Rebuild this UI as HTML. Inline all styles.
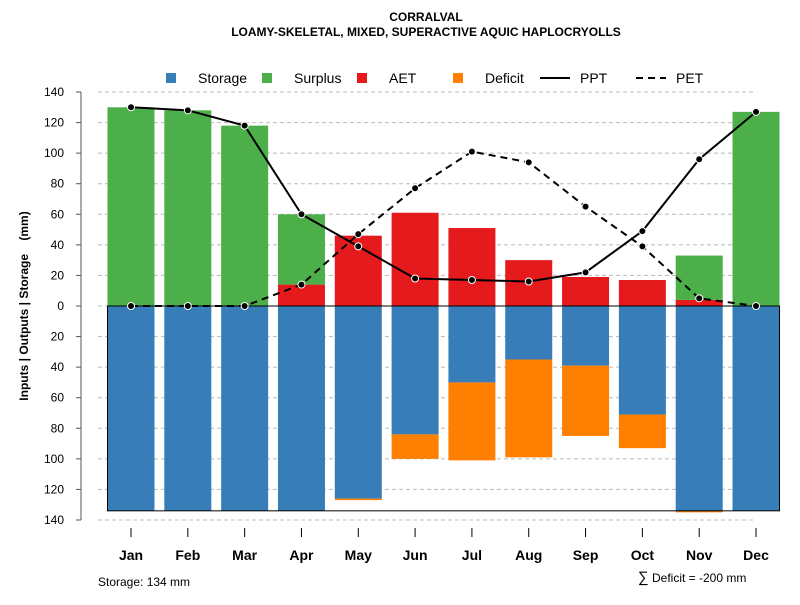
<!DOCTYPE html>
<html><head><meta charset="utf-8"><style>
body{margin:0;background:#fff;font-family:"Liberation Sans",sans-serif}
svg text{font-family:"Liberation Sans",sans-serif}
</style></head><body>
<svg id="c" width="800" height="600" xmlns="http://www.w3.org/2000/svg">
<text x="426" y="21" text-anchor="middle" font-size="12" font-weight="bold">CORRALVAL</text>
<text x="426" y="36" text-anchor="middle" font-size="12" font-weight="bold">LOAMY-SKELETAL, MIXED, SUPERACTIVE AQUIC HAPLOCRYOLLS</text>
<text transform="translate(28,306) rotate(-90)" text-anchor="middle" font-size="12" font-weight="bold">Inputs | Outputs | Storage &#160;&#160;&#160;(mm)</text>
<text x="98" y="586" font-size="12">Storage: 134 mm</text>
<text x="638" y="582" font-size="15">∑</text>
<text x="652" y="582" font-size="12">Deficit = -200 mm</text>
<g id="legend">
<g><rect x="166" y="73" width="10" height="10" fill="#377EB8"/><text x="198" y="83" font-size="14">Storage</text></g>
<g><rect x="262" y="73" width="10" height="10" fill="#4DAF4A"/><text x="294" y="83" font-size="14">Surplus</text></g>
<g><rect x="357" y="73" width="10" height="10" fill="#E41A1C"/><text x="389" y="83" font-size="14">AET</text></g>
<g><rect x="453" y="73" width="10" height="10" fill="#FF7F00"/><text x="485" y="83" font-size="14">Deficit</text></g>
<g><line x1="540" y1="78" x2="570" y2="78" stroke="#000" stroke-width="2"/><text x="580" y="83" font-size="14">PPT</text></g>
<g><line x1="636" y1="78" x2="666" y2="78" stroke="#000" stroke-width="2" stroke-dasharray="7,5"/><text x="676" y="83" font-size="14">PET</text></g>
</g>
<g id="grid"></g><g id="bars"></g><g id="lines"></g><g id="axes"></g>
</svg>
<script>
const months=["Jan","Feb","Mar","Apr","May","Jun","Jul","Aug","Sep","Oct","Nov","Dec"];
const storage=[134,134,134,134,126,84,50,35,39,71,134,134];
const deficit=[0,0,0,0,1,16,51,64,46,22,1,0];
const aet=[0,0,0,14,46,61,51,30,19,17,4,0];
const surplus=[130,128,118,46,0,0,0,0,0,0,29,127];
const ppt=[130,128,118,60,39,18,17,16,22,49,96,127];
const pet=[0,0,0,14,47,77,101,94,65,39,5,0];
const yTicks=[140,120,100,80,60,40,20,0,20,40,60,80,100,120,140];
const yTickVals=[140,120,100,80,60,40,20,0,-20,-40,-60,-80,-100,-120,-140];
const awc=134;
const NS="http://www.w3.org/2000/svg";
const y=v=>306-v*(214/140);
const x=i=>131+i*56.82;
const bw=47;
function mk(p,t,a){const e=document.createElementNS(NS,t);for(const k in a)e.setAttribute(k,a[k]);p.appendChild(e);return e;}
const G=document.getElementById('grid'),B=document.getElementById('bars'),L=document.getElementById('lines'),A=document.getElementById('axes');
yTickVals.forEach((v,i)=>{
 const g=mk(G,'line',{x1:98,x2:756,y1:y(v),y2:y(v),stroke:'#bbb','stroke-dasharray':'4,3'});
 
 
 const t=mk(A,'line',{x1:76,x2:81,y1:y(v),y2:y(v),stroke:'#555'});
 
 
 const l=mk(A,'text',{x:64,y:y(v)+4,'text-anchor':'end','font-size':12});
 l.textContent=yTicks[i];
 
 
});
mk(A,'line',{x1:81,x2:81,y1:y(140),y2:y(-140),stroke:'#555'});
months.forEach((m,i)=>{
 const cx=x(i),x0=cx-bw/2;
 let r=mk(B,'rect',{x:x0,y:y(0),width:bw,height:y(-storage[i])-y(0),fill:'#377EB8'});
 
 
 if(deficit[i]>0){r=mk(B,'rect',{x:x0,y:y(-storage[i]),width:bw,height:y(-storage[i]-deficit[i])-y(-storage[i]),fill:'#FF7F00'});
 
 }
 if(aet[i]>0){r=mk(B,'rect',{x:x0,y:y(aet[i]),width:bw,height:y(0)-y(aet[i]),fill:'#E41A1C'});
 
 }
 if(surplus[i]>0){r=mk(B,'rect',{x:x0,y:y(aet[i]+surplus[i]),width:bw,height:y(aet[i])-y(aet[i]+surplus[i]),fill:'#4DAF4A'});
 
 }
 const t=mk(A,'line',{x1:cx,x2:cx,y1:528,y2:537,stroke:'#000'});
 
 
 const l=mk(A,'text',{x:cx,y:560,'text-anchor':'middle','font-size':14,'font-weight':'bold'});
 l.textContent=m;
 
 
});
const box=mk(B,'rect',{x:x(0)-bw/2,y:y(0),width:x(11)+bw/2-(x(0)-bw/2),height:y(-awc)-y(0),fill:'none',stroke:'#000','stroke-width':1});


function series(arr,name,dash){
 const p=mk(L,'polyline',{points:arr.map((v,i)=>x(i)+','+y(v)).join(' '),fill:'none',stroke:'#000','stroke-width':2,'stroke-dasharray':dash});
 
 
 arr.forEach((v,i)=>{const c=mk(L,'circle',{cx:x(i),cy:y(v),r:3.5,fill:'#000',stroke:'#fff','stroke-width':1});
 
 });
}
series(pet,'pet','7,5');
series(ppt,'ppt','none');
</script>
</body></html>
